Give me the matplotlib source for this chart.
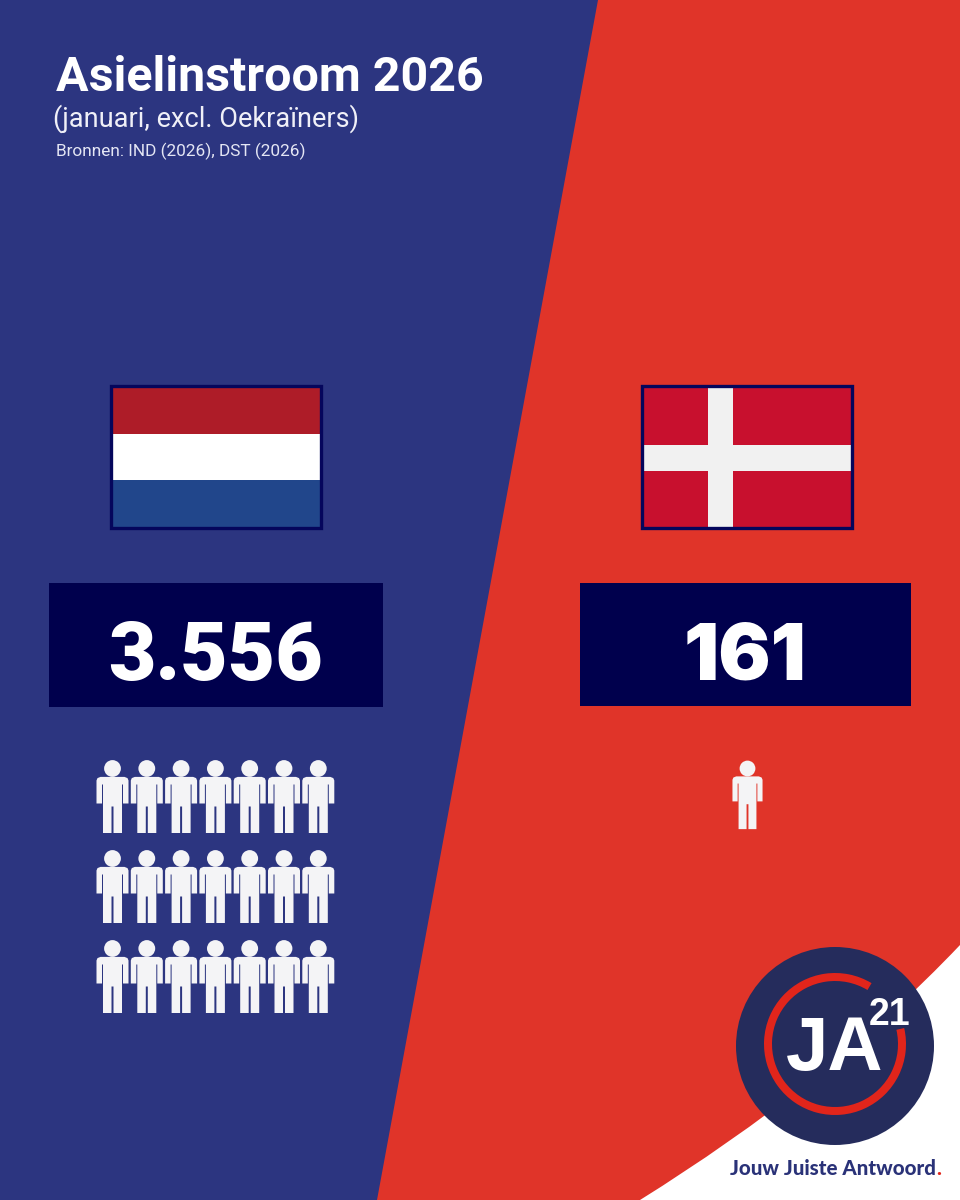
import matplotlib
matplotlib.use('Agg')
import matplotlib.pyplot as plt
from matplotlib.patches import Circle, Polygon, Rectangle, Wedge, PathPatch
from matplotlib.path import Path

# data
countries = ['Nederland', 'Denemarken']
inflow_labels = ['3.556', '161']
icon_counts = [21, 1]
title = 'Asielinstroom 2026'
subtitle = '(januari, excl. Oekraïners)'
source = 'Bronnen: IND (2026), DST (2026)'
tagline = 'Jouw Juiste Antwoord'

BLUE = '#2C3580'
RED = '#E03429'
BOX = '#00004D'
LOGO = '#252C5C'
ICON = '#F4F4F6'
FLAG_EDGE = '#05065C'

plt.rcParams['font.family'] = ['Roboto', 'DejaVu Sans']


# one figure, relative to head centre
def person(ax, cx, cy, s=1.0):
    pts = [(-12, 8.4), (12, 8.4), (15, 9.6), (16, 12), (16, 35), (10.5, 35), (10.5, 16),
           (9.5, 16), (9.5, 64.5), (1, 64.5), (1, 38), (-1, 38), (-1, 64.5), (-9.5, 64.5),
           (-9.5, 16), (-10.5, 16), (-10.5, 35), (-16, 35), (-16, 12), (-15, 9.6), (-12, 8.4)]
    pts = [(cx + x * s, cy + y * s) for x, y in pts]
    ax.add_patch(Polygon(pts, closed=True, fc=ICON, ec='none', zorder=4))
    ax.add_patch(Circle((cx, cy), 8.4 * s, fc=ICON, ec='none', zorder=4))


fig = plt.figure(figsize=(9.6, 12), dpi=100)
ax = fig.add_axes([0, 0, 1, 1])
ax.set_xlim(0, 960)
ax.set_ylim(1200, 0)
ax.axis('off')

# background
ax.add_patch(Rectangle((0, 0), 960, 1200, fc=RED, ec='none', zorder=0))
ax.add_patch(Polygon([(0, 0), (598, 0), (377, 1200), (0, 1200)], fc=BLUE, ec='none', zorder=1))
curve = Path([(960, 945), (870, 1040), (760, 1125), (640, 1200), (960, 1200), (960, 945)],
             [Path.MOVETO, Path.CURVE4, Path.CURVE4, Path.CURVE4, Path.LINETO, Path.CLOSEPOLY])
ax.add_patch(PathPatch(curve, fc='white', ec='none', zorder=1))

# header
ax.text(56, 91, title, color='white', fontsize=34.8, fontweight='bold', va='baseline', zorder=5)
ax.text(53, 127, subtitle, color='#F0F0F8', fontsize=19.5, va='baseline', zorder=5)
ax.text(56, 156, source, color='#E4E6F4', fontsize=12.45, va='baseline', zorder=5)

# flag NL
ax.add_patch(Rectangle((111, 386), 210, 47.5, fc='#AE1C28', ec='none', zorder=3))
ax.add_patch(Rectangle((111, 433.5), 210, 46.2, fc='white', ec='none', zorder=3))
ax.add_patch(Rectangle((111, 479.7), 210, 48.3, fc='#21468B', ec='none', zorder=3))
ax.add_patch(Rectangle((110.7, 386), 210, 142.3, fc='none', ec=FLAG_EDGE, lw=2.4, zorder=4))

# flag DK
ax.add_patch(Rectangle((642, 386), 210, 142, fc='#C8102E', ec='none', zorder=3))
ax.add_patch(Rectangle((708, 386), 25, 142, fc='#F1F1F1', ec='none', zorder=3))
ax.add_patch(Rectangle((642, 445), 210, 26, fc='#F1F1F1', ec='none', zorder=3))
ax.add_patch(Rectangle((641.7, 386), 210, 142.3, fc='none', ec=FLAG_EDGE, lw=2.4, zorder=4))

# number boxes
ax.add_patch(Rectangle((49, 583), 334, 124, fc=BOX, ec='none', zorder=3))
ax.add_patch(Rectangle((580, 583), 331, 123, fc=BOX, ec='none', zorder=3))
ax.text(216, 680, inflow_labels[0], color='white', fontsize=59, fontweight='black',
        ha='center', va='baseline', zorder=5)
ax.text(745, 680, inflow_labels[1], color='white', fontsize=56, fontweight='black',
        family=['Inter', 'Roboto'], ha='center', va='baseline', zorder=5)

# icons, 7 on a row
for i in range(icon_counts[0]):
    person(ax, 112.5 + (i % 7) * 34.3, 768.5 + (i // 7) * 90)
for i in range(icon_counts[1]):
    person(ax, 747.5, 768.5, 0.94)

# logo
ax.add_patch(Circle((835, 1046), 99, fc=LOGO, ec='none', zorder=3))
ax.add_patch(Wedge((835, 1044), 71, -373, -59, width=8, fc='#E1251B', ec='none', zorder=4))
ax.text(834.5, 1070, 'JA', color='white', fontsize=55, fontweight='bold',
        family=['Liberation Sans'], ha='center', va='baseline', zorder=5)
ax.text(890, 1025, '21', color='white', fontsize=27, fontweight='bold',
        family=['Liberation Sans'], ha='center', va='baseline', zorder=5)

tag = ax.text(730, 1175, tagline, color='#2A3278', fontsize=14.8, fontweight='black',
              family=['Lato'], va='baseline', zorder=5)
ax.annotate('.', xy=(1, 0), xycoords=tag, xytext=(0.5, 0), textcoords='offset points',
            color='#E1251B', fontsize=14.8, fontweight='black', family=['Lato'],
            va='bottom', zorder=5)

fig.savefig('out.png', dpi=100)
